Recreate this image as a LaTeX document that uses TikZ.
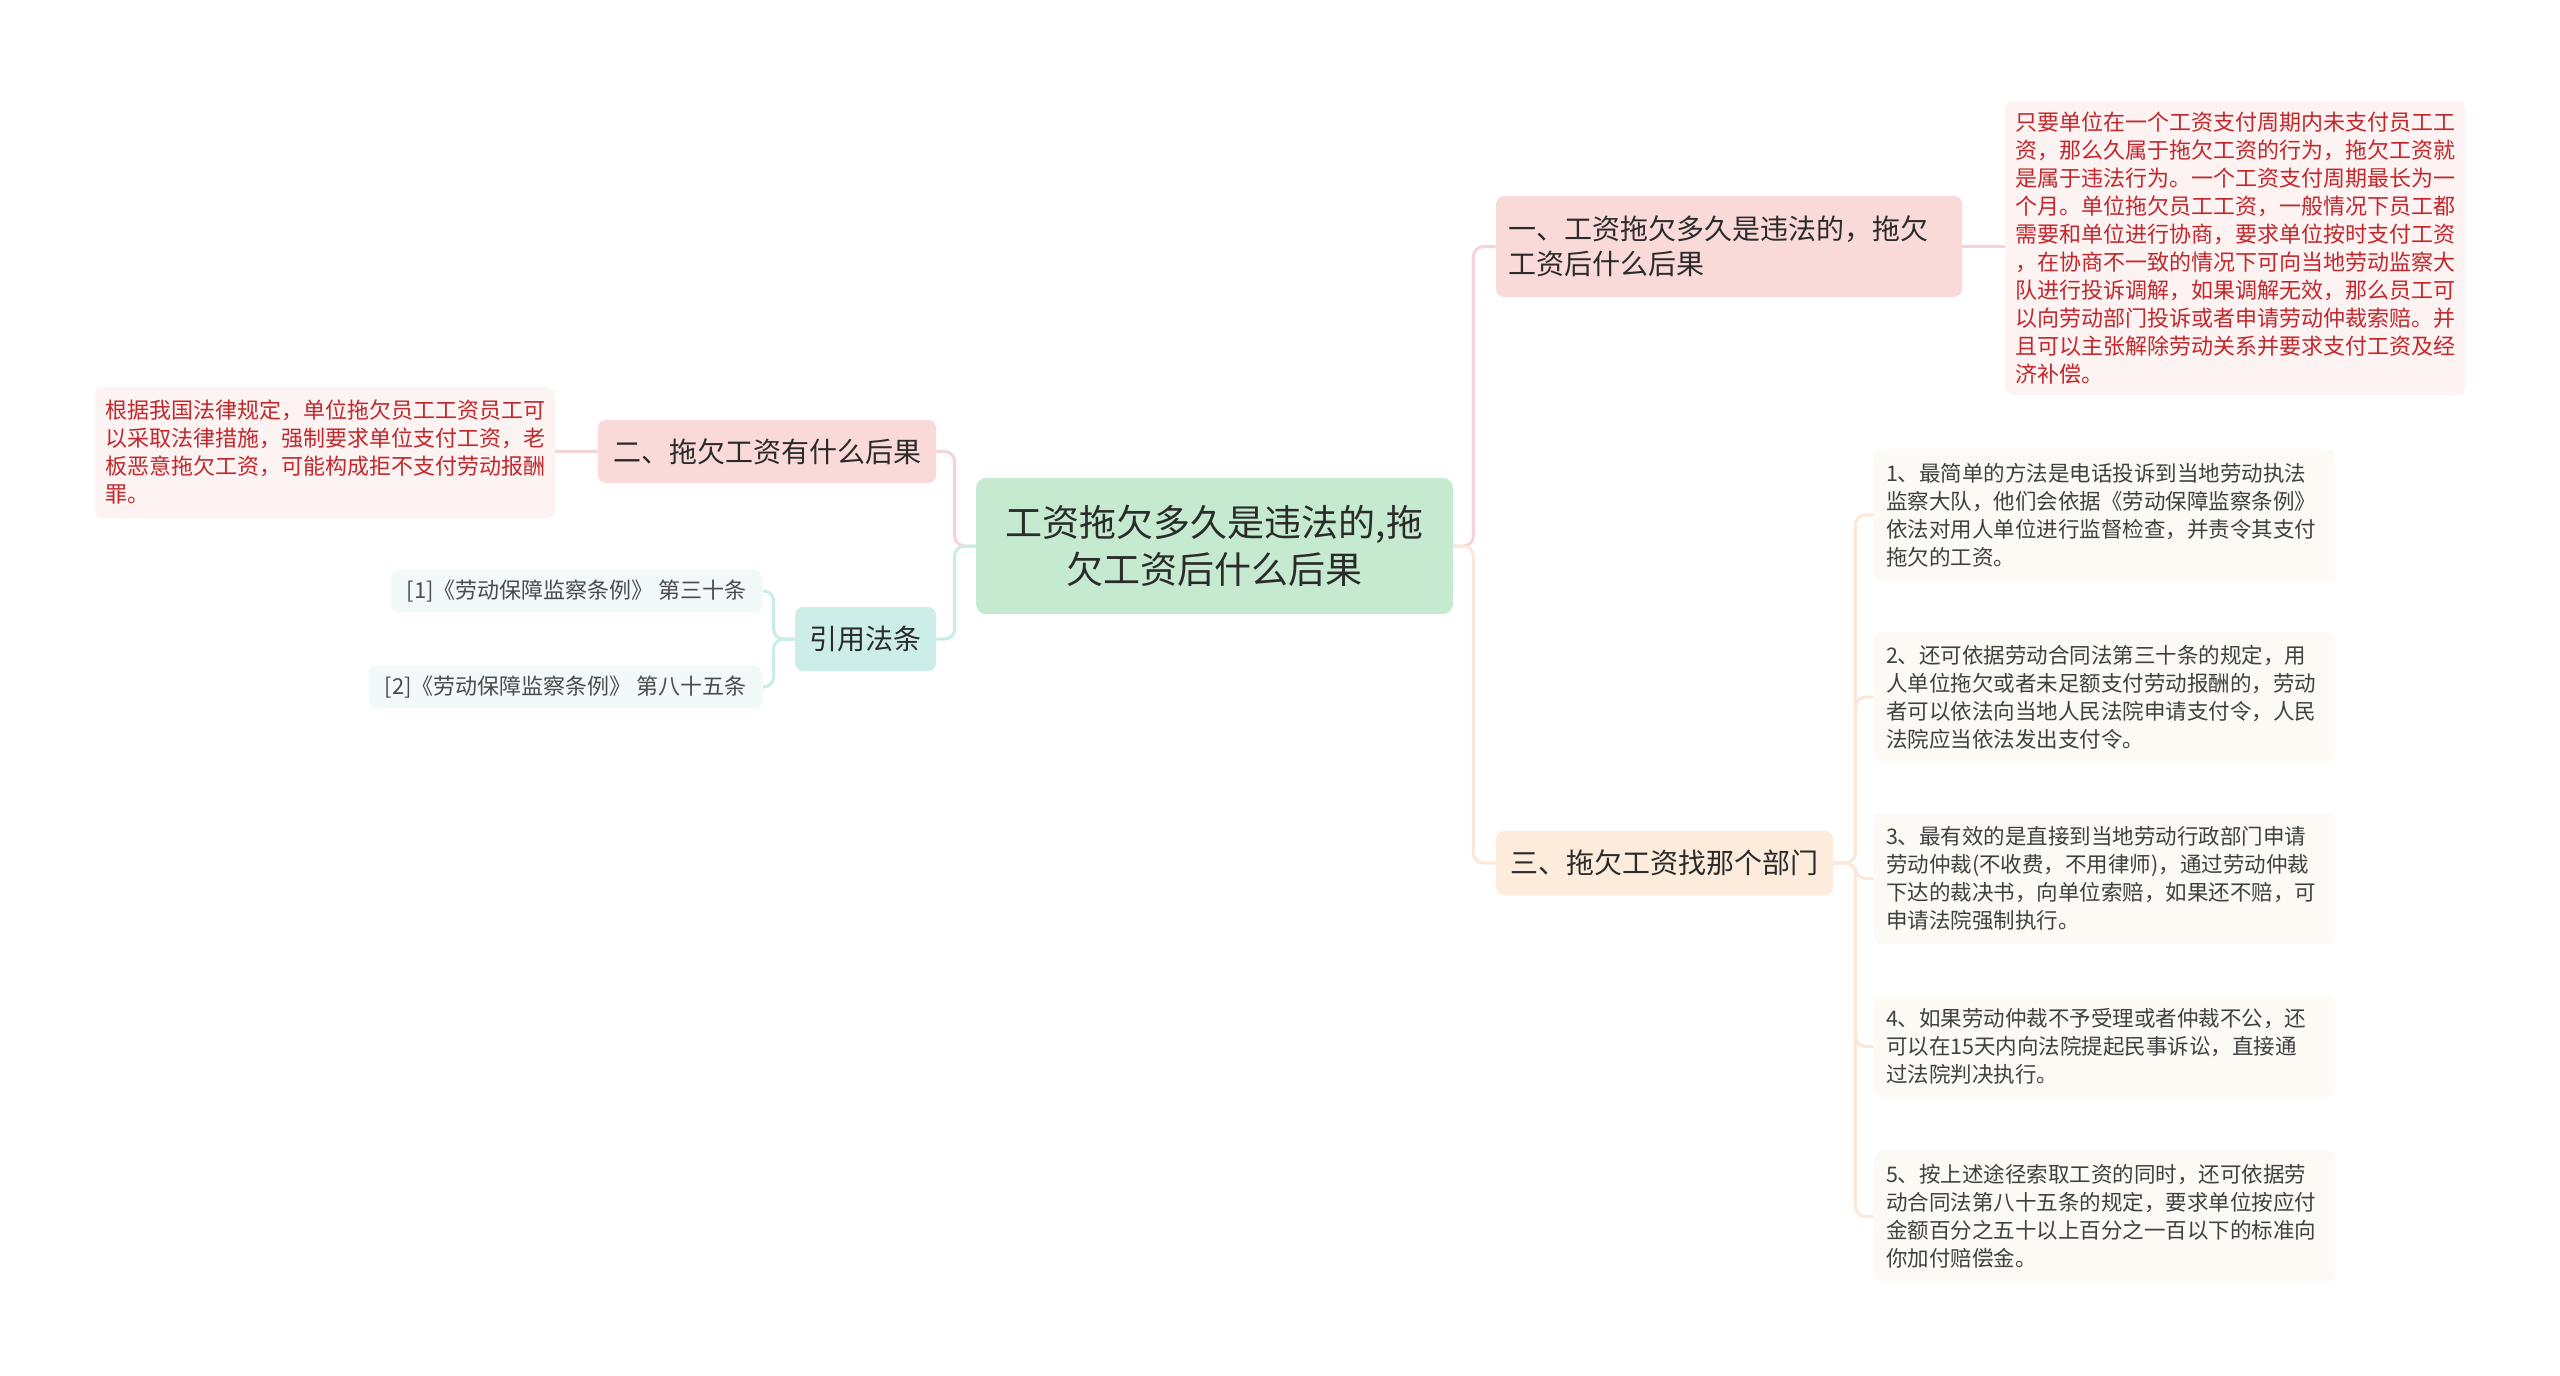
\documentclass[tikz,border=0pt]{standalone}
\usepackage{fontspec}
\setmainfont{Noto Sans CJK SC}
\usepackage{tikz}
\usetikzlibrary{positioning,calc}
\definecolor{ink}{HTML}{2B2B2B}
\definecolor{rootgreen}{HTML}{C6EAD0}
\definecolor{topicpink}{HTML}{FAD9D9}
\definecolor{topicteal}{HTML}{CDEEE8}
\definecolor{topicorange}{HTML}{FDEBDB}
\definecolor{notepink}{HTML}{FDF3F3}
\definecolor{notecream}{HTML}{FDFAF6}
\definecolor{noteteal}{HTML}{F2FAF9}
\definecolor{notered}{HTML}{C2272B}
\definecolor{linepink}{HTML}{F6D3D6}
\definecolor{lineorange}{HTML}{FBE8D8}
\definecolor{lineteal}{HTML}{C8ECE6}
\tikzset{
  root/.style  = {fill=rootgreen, rounded corners=5pt, align=center, text=ink,
                  minimum width=238.5pt, minimum height=68pt,
                  font=\fontsize{18.5pt}{23.5pt}\selectfont},
  topic/.style = {rounded corners=4pt, inner xsep=6pt, text=ink,
                  font=\fontsize{14pt}{17.5pt}\selectfont},
  note/.style  = {rounded corners=4pt, inner xsep=5pt, inner ysep=4pt, align=left,
                  font=\fontsize{11pt}{14pt}\selectfont},
  item/.style  = {note, fill=notecream, text=ink!90, inner xsep=6pt, text width=218.5pt,
                  font=\fontsize{10.75pt}{14pt}\selectfont},
  ref/.style   = {rounded corners=4pt, fill=noteteal, text=ink!85, inner xsep=8pt,
                  minimum height=21pt, anchor=east, font=\fontsize{11pt}{13pt}\selectfont},
  link/.style  = {line width=1.5pt, rounded corners=5pt},
}

\begin{document}
\begin{tikzpicture}[x=0.5pt,y=-0.5pt]
  \useasboundingbox[fill=white] (0,0) rectangle (2560,1376);
  % centre
  \node[root] (root) at (1214.5,546) {工资拖欠多久是违法的,拖\\欠工资后什么后果};
  % right side
  \node[topic, fill=topicpink, align=left, text width=221pt, minimum height=50.5pt]
      (b1) at (1729,246.5) {一、工资拖欠多久是违法的，拖欠\\工资后什么后果};
  \node[note, fill=notepink, text=notered, text width=220pt, minimum height=147pt]
      (t1) at (2235,248) {只要单位在一个工资支付周期内未支付员工工\\资，那么久属于拖欠工资的行为，拖欠工资就\\是属于违法行为。一个工资支付周期最长为一\\个月。单位拖欠员工工资，一般情况下员工都\\需要和单位进行协商，要求单位按时支付工资\\，在协商不一致的情况下可向当地劳动监察大\\队进行投诉调解，如果调解无效，那么员工可\\以向劳动部门投诉或者申请劳动仲裁索赔。并\\且可以主张解除劳动关系并要求支付工资及经\\济补偿。};
  \node[topic, fill=topicorange, minimum width=168.5pt, minimum height=32pt]
      (b3) at (1664.5,863) {三、拖欠工资找那个部门};
  \node[item, minimum height=66pt] (s1) at (2104.5,515)
      {1、最简单的方法是电话投诉到当地劳动执法\\监察大队，他们会依据《劳动保障监察条例》\\依法对用人单位进行监督检查，并责令其支付\\拖欠的工资。};
  \node[item, minimum height=65pt] (s2) at (2104.5,697)
      {2、还可依据劳动合同法第三十条的规定，用\\人单位拖欠或者未足额支付劳动报酬的，劳动\\者可以依法向当地人民法院申请支付令，人民\\法院应当依法发出支付令。};
  \node[item, minimum height=65.5pt] (s3) at (2104.5,878.5)
      {3、最有效的是直接到当地劳动行政部门申请\\劳动仲裁(不收费，不用律师)，通过劳动仲裁\\下达的裁决书，向单位索赔，如果还不赔，可\\申请法院强制执行。};
  \node[item, minimum height=50.5pt] (s4) at (2104.5,1046.5)
      {4、如果劳动仲裁不予受理或者仲裁不公，还\\可以在15天内向法院提起民事诉讼，直接通\\过法院判决执行。};
  \node[item, minimum height=65.5pt] (s5) at (2104.5,1216.5)
      {5、按上述途径索取工资的同时，还可依据劳\\动合同法第八十五条的规定，要求单位按应付\\金额百分之五十以上百分之一百以下的标准向\\你加付赔偿金。};
  % left side
  \node[topic, fill=topicpink, minimum width=169pt, minimum height=31.5pt]
      (b2) at (767,451.5) {二、拖欠工资有什么后果};
  \node[note, fill=notepink, text=notered, text width=220pt, minimum height=65.5pt]
      (t2) at (325,452.5) {根据我国法律规定，单位拖欠员工工资员工可\\以采取法律措施，强制要求单位支付工资，老\\板恶意拖欠工资，可能构成拒不支付劳动报酬\\罪。};
  \node[topic, fill=topicteal, minimum width=70.5pt, minimum height=32pt]
      (b4) at (865.5,639) {引用法条};
  \node[ref] (r1) at (763,591) {[1]《劳动保障监察条例》 第三十条};
  \node[ref] (r2) at (763,687) {[2]《劳动保障监察条例》 第八十五条};

  % connectors
  \draw[link, linepink] (root.east) -- ++(10pt,0) |- (b1.west);
  \draw[link, lineorange] (root.east) -- ++(10pt,0) |- (b3.west);
  \draw[link, linepink] (b1.east) -- (b1.east -| t1.west);
  \foreach \i in {1,...,5}
    \draw[link, lineorange] (b3.east) -- ++(11pt,0) |- (s\i.west);
  \draw[link, linepink] (root.west) -- ++(-10.5pt,0) |- (b2.east);
  \draw[link, lineteal] (root.west) -- ++(-10.5pt,0) |- (b4.east);
  \draw[link, linepink] (b2.west) -- (b2.west -| t2.east);
  \draw[link, lineteal] (b4.west) -- ++(-10.5pt,0) |- (r1.east);
  \draw[link, lineteal] (b4.west) -- ++(-10.5pt,0) |- (r2.east);
\end{tikzpicture}
\end{document}
